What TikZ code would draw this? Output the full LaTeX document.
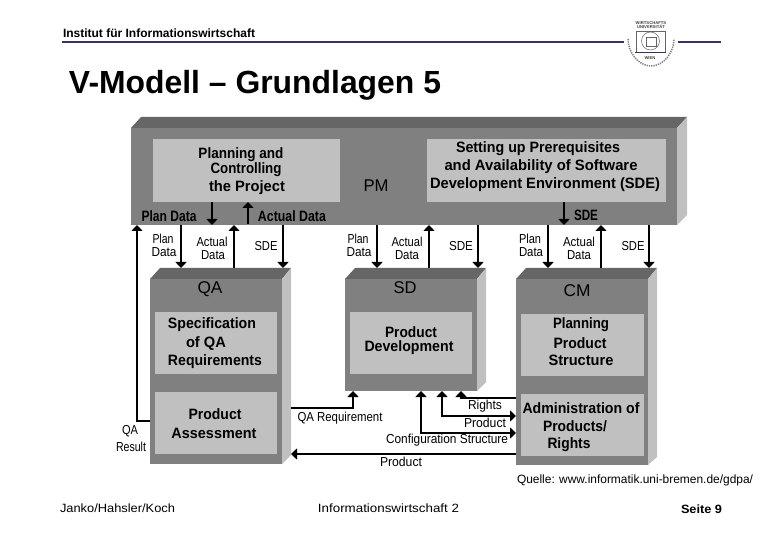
\documentclass[tikz,border=0pt]{standalone}
\usepackage{fontspec}
\setmainfont{Liberation Sans}
\usetikzlibrary{arrows.meta}
\definecolor{front}{HTML}{808080}
\definecolor{band}{HTML}{666666}
\definecolor{pale}{HTML}{C0C0C0}
\definecolor{navy}{HTML}{333366}
\newcommand{\lbl}[6]{\node[lblbase,#5] (#1) at (#2,#3) {\resizebox{#4pt}{\height}{#6}};}
\tikzset{
  lblbase/.style={inner sep=0pt,outer sep=0pt,anchor=center,text=black},
  boldt/.style={font=\fontsize{15}{16}\selectfont\bfseries},
  regt/.style={font=\fontsize{13}{14}\selectfont},
  bigt/.style={font=\fontsize{17}{18}\selectfont},
  page/.style={font=\fontsize{12}{13}\selectfont},
  face/.style={fill=front,draw=none,inner sep=0pt,outer sep=0pt,anchor=north west},
  inner/.style={fill=pale,draw=none,inner sep=0pt,outer sep=0pt,anchor=north west},
  bandf/.style={fill=band,draw=none},
  sidef/.style={fill=pale,draw=none},
  arr/.style={line width=2.2pt,draw=black,-{Triangle[width=11pt,length=6pt]}},
  thinarr/.style={line width=1.5pt,draw=black,-{Triangle[width=11pt,length=6pt]}},
  bothtips/.style={{Triangle[width=11pt,length=6pt]}-{Triangle[width=11pt,length=6pt]}},
  rulex/.style={line width=2pt,draw=navy},
  logo/.style={draw=black!60,line width=0.5pt},
}
\begin{document}
\begin{tikzpicture}[x=1pt,y=-1pt]
\useasboundingbox (0,0) rectangle (780,540);
\fill[white] (0,0) rectangle (780,540);
% header
\lbl{head}{159}{33}{192}{font=\fontsize{12}{13}\selectfont\bfseries}{Institut für Informationswirtschaft}
\coordinate (ruleA) at (62,42); \coordinate (ruleB) at (624,42);
\coordinate (ruleC) at (678,42); \coordinate (ruleD) at (721,42);
\draw[rulex] (ruleA) -- (ruleB);
\draw[rulex] (ruleC) -- (ruleD);
\lbl{title}{255}{85}{372}{font=\fontsize{32}{34}\selectfont\bfseries}{V-Modell – Grundlagen 5}
% logo
\node[lblbase,font=\fontsize{4.2}{4.6}\selectfont\bfseries,align=center,text=black!75] (logotext) at (651,25) {WIRTSCHAFTS\\UNIVERSITÄT};
\draw[logo] (636,31) -- (665,31);
\draw[logo] (636,31) -- (636,52);
\draw[logo] (665,31) -- (665,52);
\draw[logo] (650.5,41) circle (9);
\draw[logo] (646,37) rectangle (656,46);
\draw[navy,line width=0.9pt] (635,52) -- (666,52);
\draw[black!50,line width=1.5pt,dash pattern=on 1.3pt off 1pt] (628,39) .. controls (628,52) and (638,66) .. (651,66) .. controls (664,66) and (674,52) .. (674,39);
\node[lblbase,font=\fontsize{4.2}{5}\selectfont\bfseries,text=black!75] (logowien) at (650,58) {WIEN};
% PM block
\fill[bandf] (131,128) -- (141,117) -- (687,117) -- (677,128) -- cycle;
\fill[sidef] (677,128) -- (687,117) -- (687,215) -- (677,225) -- cycle;
\node[face,minimum width=546pt,minimum height=97pt] (pm) at (131,128) {};
\node[inner,minimum width=187pt,minimum height=63pt] (plan) at (153,139) {};
\node[inner,minimum width=239pt,minimum height=63pt] (sde) at (427,139) {};
% QA block
\fill[bandf] (150,279) -- (160,268) -- (291,268) -- (282,279) -- cycle;
\fill[sidef] (282,279) -- (291,268) -- (291,455) -- (282,464) -- cycle;
\node[face,minimum width=132pt,minimum height=185pt] (qa) at (150,279) {};
\node[inner,minimum width=122pt,minimum height=62pt] (spec) at (155,312) {};
\node[inner,minimum width=122pt,minimum height=62pt] (assess) at (155,392) {};
% SD block
\fill[bandf] (345,279) -- (355,268) -- (486,268) -- (477,279) -- cycle;
\fill[sidef] (477,279) -- (486,268) -- (486,382) -- (477,391) -- cycle;
\node[face,minimum width=132pt,minimum height=112pt] (sd) at (345,279) {};
\node[inner,minimum width=122pt,minimum height=62pt] (dev) at (350,312) {};
% CM block
\fill[bandf] (516,279) -- (526,268) -- (657,268) -- (648,279) -- cycle;
\fill[sidef] (648,279) -- (657,268) -- (657,457) -- (648,465) -- cycle;
\node[face,minimum width=132pt,minimum height=186pt] (cm) at (516,279) {};
\node[inner,minimum width=123pt,minimum height=62pt] (struct) at (521,314) {};
\node[inner,minimum width=123pt,minimum height=62pt] (admin) at (521,394) {};
% ports
\coordinate (p1) at (181,268); \coordinate (p2) at (234,268); \coordinate (p3) at (283,268);
\coordinate (p4) at (377,268); \coordinate (p5) at (429,268); \coordinate (p6) at (478,268);
\coordinate (p7) at (548,268); \coordinate (p8) at (601,268); \coordinate (p9) at (649,268);
\coordinate (pmIn) at (137,225);
\coordinate (planOut) at (212,225); \coordinate (planIn) at (248,224);
\coordinate (sdeOut) at (564,225);
\coordinate (qaResA) at (137,421); \coordinate (qaResB) at (150,421);
\coordinate (qaReqA) at (291,408); \coordinate (qaReqB) at (353,408); \coordinate (qaReqC) at (353,391);
\coordinate (prodIn) at (291,454); \coordinate (prodOut) at (516,454);
\coordinate (cfgA) at (421,391); \coordinate (cfgB) at (421,433); \coordinate (cfgC) at (516,433);
\coordinate (pA) at (442,391); \coordinate (pB) at (442,416); \coordinate (pC) at (516,416);
\coordinate (rA) at (461,391); \coordinate (rB) at (461,398); \coordinate (rC) at (516,398);
% connectors PM <-> blocks
\draw[arr] (p1 |- pm.south) -- (p1);
\draw[arr] (p2) -- (p2 |- pm.south);
\draw[arr] (p3 |- pm.south) -- (p3);
\draw[arr] (p4 |- pm.south) -- (p4);
\draw[arr] (p5) -- (p5 |- pm.south);
\draw[arr] (p6 |- pm.south) -- (p6);
\draw[arr] (p7 |- pm.south) -- (p7);
\draw[arr] (p8) -- (p8 |- pm.south);
\draw[arr] (p9 |- pm.south) -- (p9);
\draw[thinarr] (planOut |- plan.south) -- (planOut);
\draw[thinarr] (planIn) -- (planIn |- plan.south);
\draw[thinarr] (sdeOut |- sde.south) -- (sdeOut);
\draw[arr] (qaResB) -- (qaResA) -- (pmIn);
\draw[arr] (qaReqA) -- (qaReqB) -- (qaReqC);
\draw[arr] (prodOut) -- (prodIn);
\draw[line width=2.2pt,bothtips] (cfgA) -- (cfgB) -- (cfgC);
\draw[line width=2.2pt,bothtips] (pA) -- (pB) -- (pC);
\draw[thinarr] (rC) -- (rB) -- (rA);
% texts
\lbl{t1}{241}{155}{85}{boldt}{Planning and}
\lbl{t2}{246}{170}{71}{boldt}{Controlling}
\lbl{t3}{247}{188}{76}{boldt}{the Project}
\lbl{t4}{538}{149}{164}{boldt}{Setting up Prerequisites}
\lbl{t5}{541}{167}{193}{boldt}{and Availability of Software}
\lbl{t6}{545}{185}{230}{boldt}{Development Environment (SDE)}
\lbl{t7}{376}{186}{25}{bigt}{PM}
\lbl{t8}{169}{216}{55}{boldt}{Plan Data}
\lbl{t9}{292}{216}{68}{boldt}{Actual Data}
\lbl{t10}{586}{215}{24}{boldt}{SDE}
\lbl{a1}{163}{239}{21}{regt}{Plan}
\lbl{a2}{164}{252}{25}{regt}{Data}
\lbl{a3}{212}{242}{31}{regt}{Actual}
\lbl{a4}{213}{255}{24}{regt}{Data}
\lbl{a5}{266}{246}{23}{regt}{SDE}
\lbl{b1}{358}{239}{21}{regt}{Plan}
\lbl{b2}{359}{252}{25}{regt}{Data}
\lbl{b3}{407}{242}{31}{regt}{Actual}
\lbl{b4}{407}{255}{24}{regt}{Data}
\lbl{b5}{461}{246}{24}{regt}{SDE}
\lbl{c1}{530}{239}{22}{regt}{Plan}
\lbl{c2}{531}{252}{24}{regt}{Data}
\lbl{c3}{579}{242}{32}{regt}{Actual}
\lbl{c4}{579}{255}{24}{regt}{Data}
\lbl{c5}{633}{246}{23}{regt}{SDE}
\lbl{qt}{210}{289}{25}{bigt}{QA}
\lbl{sdt}{405}{288}{23}{bigt}{SD}
\lbl{cmt}{577}{291}{27}{bigt}{CM}
\lbl{s1}{212}{325}{88}{boldt}{Specification}
\lbl{s2}{206}{344}{40}{boldt}{of QA}
\lbl{s3}{215}{362}{94}{boldt}{Requirements}
\lbl{s4}{215}{414}{53}{boldt}{Product}
\lbl{s5}{214}{433}{85}{boldt}{Assessment}
\lbl{d1}{411}{332}{52}{boldt}{Product}
\lbl{d2}{409}{348}{89}{boldt}{Development}
\lbl{m1}{581}{325}{56}{boldt}{Planning}
\lbl{m2}{580}{343}{53}{boldt}{Product}
\lbl{m3}{581}{360}{65}{boldt}{Structure}
\lbl{m4}{581}{408}{117}{boldt}{Administration of}
\lbl{m5}{575}{426}{64}{boldt}{Products/}
\lbl{m6}{569}{445}{43}{boldt}{Rights}
\lbl{r1}{485}{406}{34}{regt}{Rights}
\lbl{r2}{485}{423}{42}{regt}{Product}
\lbl{r3}{447}{440}{122}{regt}{Configuration Structure}
\lbl{r4}{401}{462}{42}{regt}{Product}
\lbl{r5}{340}{418}{85}{regt}{QA Requirement}
\lbl{r6}{130}{431}{16}{regt}{QA}
\lbl{r7}{131}{447}{30}{regt}{Result}
\lbl{src}{635}{480}{236}{page}{Quelle: www.informatik.uni-bremen.de/gdpa/}
\lbl{f1}{117.5}{508}{115}{page}{Janko/Hahsler/Koch}
\lbl{f2}{388.5}{508}{141}{page}{Informationswirtschaft 2}
\lbl{f3}{701.5}{509}{41}{font=\fontsize{12}{13}\selectfont\bfseries}{Seite 9}
\end{tikzpicture}
\end{document}
